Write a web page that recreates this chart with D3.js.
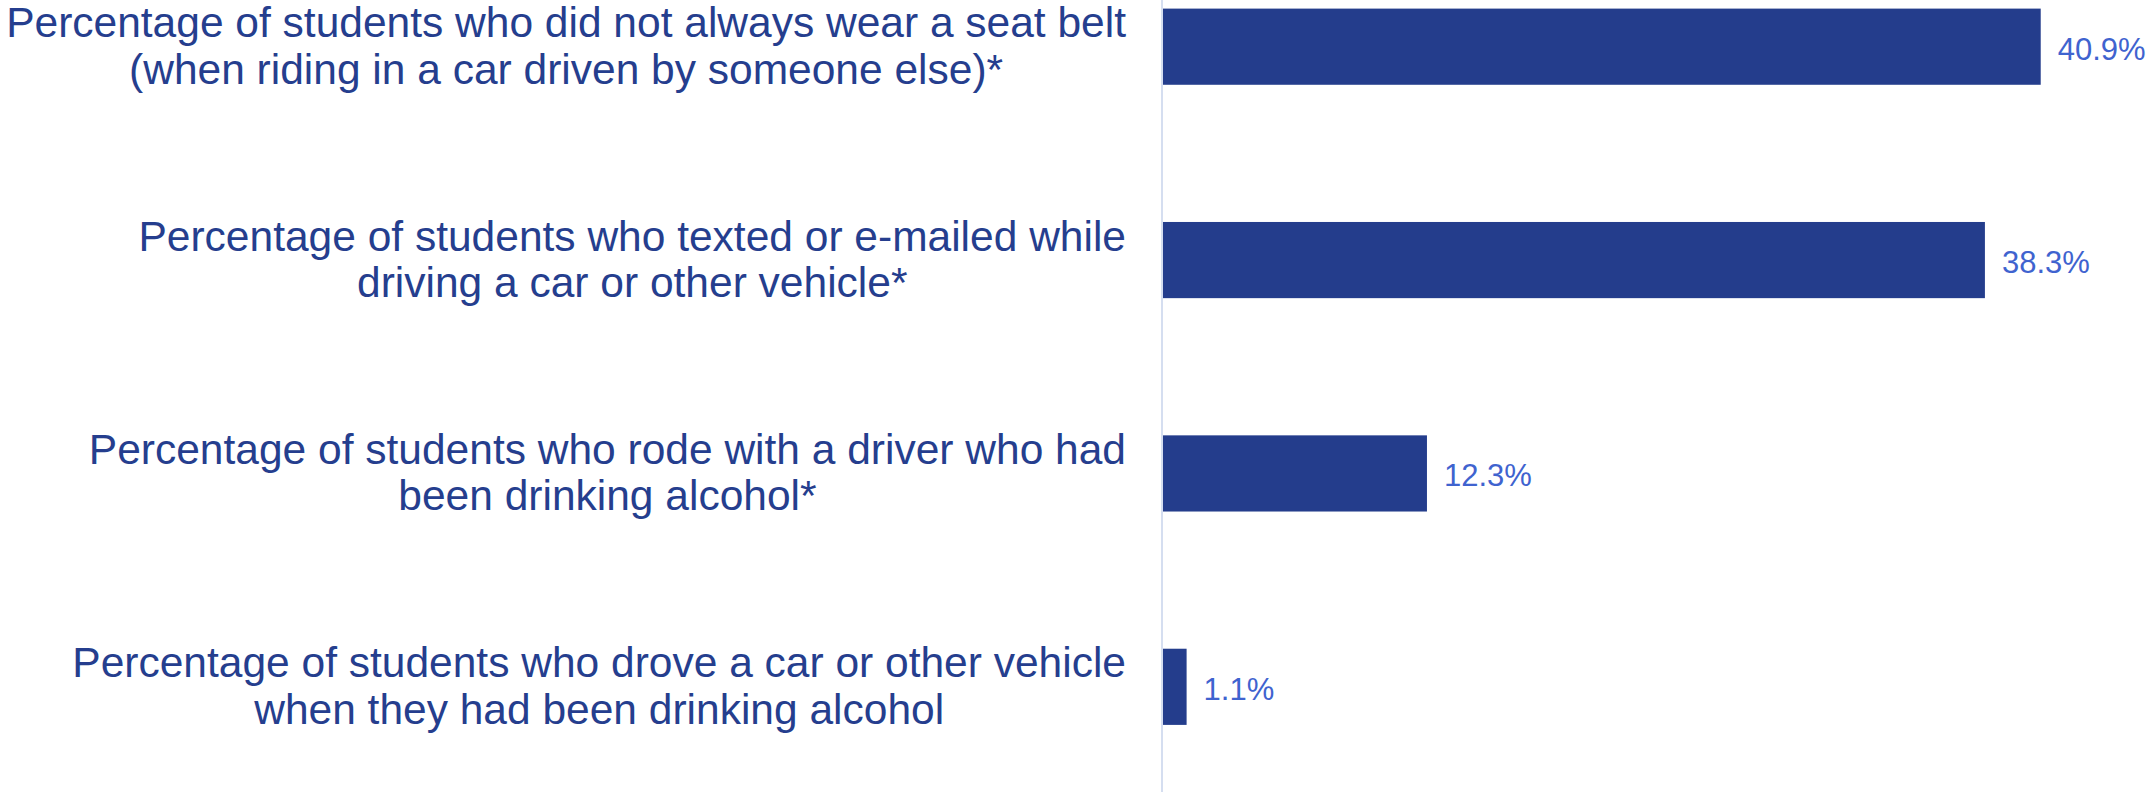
<!DOCTYPE html>
<html>
<head>
<meta charset="utf-8">
<script src="https://cdn.jsdelivr.net/npm/d3@7"></script>
<style>
  html, body { margin: 0; padding: 0; background: #fff; }
  svg { display: block; }
</style>
</head>
<body>
<svg id="chart" width="2149" height="792"></svg>
<script>
const categories = [
  "Percentage of students who did not always wear a seat belt|(when riding in a car driven by someone else)*",
  "Percentage of students who texted or e-mailed while|driving a car or other vehicle*",
  "Percentage of students who rode with a driver who had|been drinking alcohol*",
  "Percentage of students who drove a car or other vehicle|when they had been drinking alcohol"
];
const values = [40.9, 38.3, 12.3, 1.1];
const valueLabels = ["40.9%", "38.3%", "12.3%", "1.1%"];

const W = 2149, H = 792;
const svg = d3.select("#chart");

const x = d3.scaleLinear().domain([0, 45]).range([1163, 1163 + 45 * 21.46]);
const y = d3.scaleBand().domain(categories).range([-60, 793.5])
  .paddingInner(0.643).paddingOuter(0.3215);

// axis line
svg.append("line")
  .attr("x1", 1162).attr("x2", 1162)
  .attr("y1", 0).attr("y2", H)
  .attr("stroke", "#d5def0").attr("stroke-width", 2);

// bars
svg.selectAll("rect.bar").data(categories).enter().append("rect")
  .attr("class", "bar")
  .attr("x", x(0))
  .attr("y", d => y(d))
  .attr("width", (d, i) => x(values[i]) - x(0))
  .attr("height", y.bandwidth())
  .attr("fill", "#243d8c");

// value labels
svg.selectAll("text.val").data(categories).enter().append("text")
  .attr("class", "val")
  .attr("x", (d, i) => x(values[i]) + 17)
  .attr("y", d => y(d) + y.bandwidth() / 2 + 13)
  .attr("font-family", "Liberation Sans, Arial, sans-serif")
  .attr("font-size", 31)
  .attr("fill", "#3f63cf")
  .text((d, i) => valueLabels[i]);

// category labels: lines centered within a block whose right edge is fixed
const rightEdge = 1126;
const lab = svg.selectAll("text.cat").data(categories).enter().append("text")
  .attr("class", "cat")
  .attr("text-anchor", "middle")
  .attr("font-family", "Liberation Sans, Arial, sans-serif")
  .attr("font-size", 42.5)
  .attr("fill", "#253e8e");
lab.each(function(d) {
  const c = y(d) + y.bandwidth() / 2;
  const lines = d.split("|");
  const t = d3.select(this);
  const spans = t.selectAll("tspan").data(lines).enter().append("tspan")
    .attr("x", 0)
    .attr("y", (l, j) => c - 9.5 + j * 46.5)
    .text(l => l);
  let maxW = 0;
  spans.each(function() { maxW = Math.max(maxW, this.getComputedTextLength()); });
  spans.attr("x", rightEdge - maxW / 2);
});
</script>
</body>
</html>
